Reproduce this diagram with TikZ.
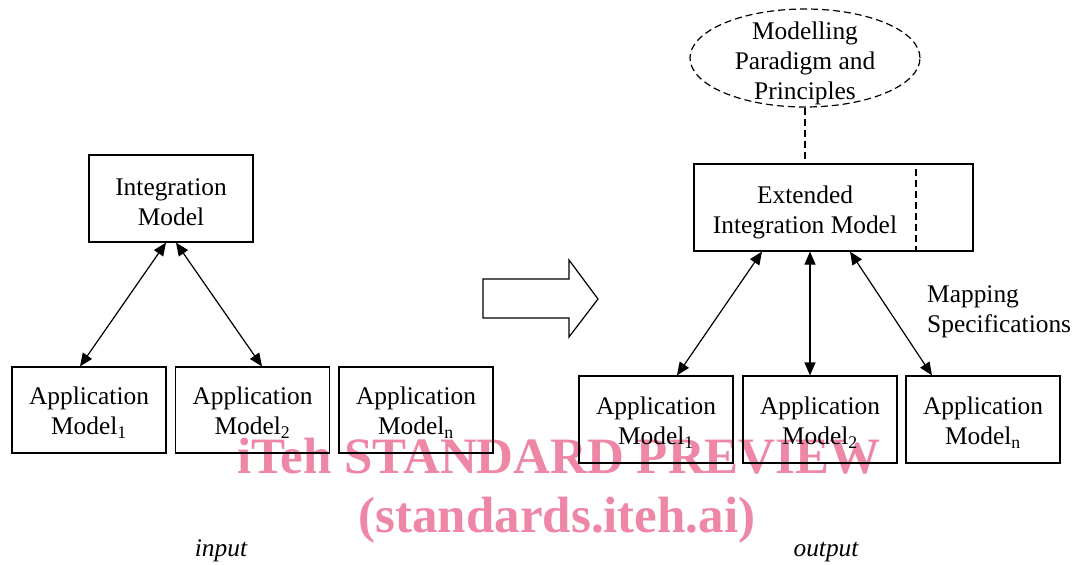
\documentclass[tikz,border=0pt]{standalone}
\usepackage{fontspec}
\setmainfont{Liberation Serif}
\usetikzlibrary{arrows.meta,shapes.geometric,calc}
\definecolor{wm}{RGB}{238,134,166}
\newcommand{\dfont}{\fontsize{25.4}{30}\selectfont}
\newcommand{\wfont}{\fontsize{51}{58}\selectfont\bfseries}
\newcommand{\tallstrut}{\rule{0pt}{23.5pt}}
\begin{document}
\begin{tikzpicture}[x=1pt,y=-1pt,
  box/.style={draw, line width=1.2pt, rectangle, inner sep=0pt, align=center, font=\dfont},
  appbox/.style={box, minimum width=154pt, minimum height=86pt},
  dsh/.style={line width=1.2pt, dash pattern=on 7pt off 4pt},
  arr/.style={line width=1.2pt, {Triangle[length=13pt,width=11pt]}-{Triangle[length=13pt,width=11pt]}},
  txt/.style={font=\dfont, inner sep=0pt, align=center},
  wmark/.style={font=\wfont, text=wm, inner sep=0pt}
]
\useasboundingbox (0,0) rectangle (1074,565);

% watermark (behind)
\node[wmark, anchor=base] (wm1) at (559,473) {iTeh STANDARD PREVIEW};
\node[wmark, anchor=base] (wm2) at (557,532) {(standards.iteh.ai)};

% ---------- input side ----------
\node[box, minimum width=164pt, minimum height=87pt] (im) at (171,198.5) {\tallstrut Integration\\Model};
\node[appbox] (a1) at (89,410) {\tallstrut Application\\Model\textsubscript{1}};
\node[appbox] (a2) at (252.5,410) {\tallstrut Application\\Model\textsubscript{2}};
\node[appbox] (an) at (416,410) {\tallstrut Application\\Model\textsubscript{n}};
\draw[arr] ([xshift=-5pt]im.south) -- ([xshift=-9pt]a1.north);
\draw[arr] ([xshift=5pt]im.south) -- ([xshift=9.5pt]a2.north);

\node[txt, font=\dfont\itshape, anchor=base] (inp) at (221,556) {input};

% ---------- block arrow ----------
\draw[line width=1.2pt, line join=miter] (483,279) -- (569,279) -- (569,260) -- (598,299)
  -- (569,337) -- (569,318) -- (483,318) -- cycle;

% ---------- output side ----------
\node[draw, dsh, ellipse, minimum width=230pt, minimum height=98pt, inner sep=0pt] (mp) at (805,58) {};
\node[txt] (mptext) at (805,63.5) {Modelling\\Paradigm and\\Principles};

\node[box, minimum width=279pt, minimum height=87pt] (extouter) at (833.5,207.5) {};
\node[draw, dsh, rectangle, inner sep=0pt, minimum width=222pt, minimum height=87pt, txt] (ext) at (805,207.5) {};
\node[txt] (exttext) at (805,212) {Extended\\Integration Model};

\draw[dsh] (mp.south) -- (ext.north);

\node[appbox, minimum height=87pt] (b1) at (656,419.5) {\tallstrut Application\\Model\textsubscript{1}};
\node[appbox, minimum height=87pt] (b2) at (820,419.5) {\tallstrut Application\\Model\textsubscript{2}};
\node[appbox, minimum height=87pt] (bn) at (983,419.5) {\tallstrut Application\\Model\textsubscript{n}};

\draw[arr] ([xshift=-43pt]ext.south) -- ([xshift=21pt]b1.north);
\draw[arr] ([xshift=5pt]ext.south) -- ([xshift=-10pt]b2.north);
\draw[arr] ([xshift=45pt]ext.south) -- ([xshift=-51pt]bn.north);

\node[txt, align=left, anchor=base west] (map) at (927,332) {Mapping\\Specifications};

\node[txt, font=\dfont\itshape, anchor=base] (outp) at (826,556) {output};
\end{tikzpicture}
\end{document}
